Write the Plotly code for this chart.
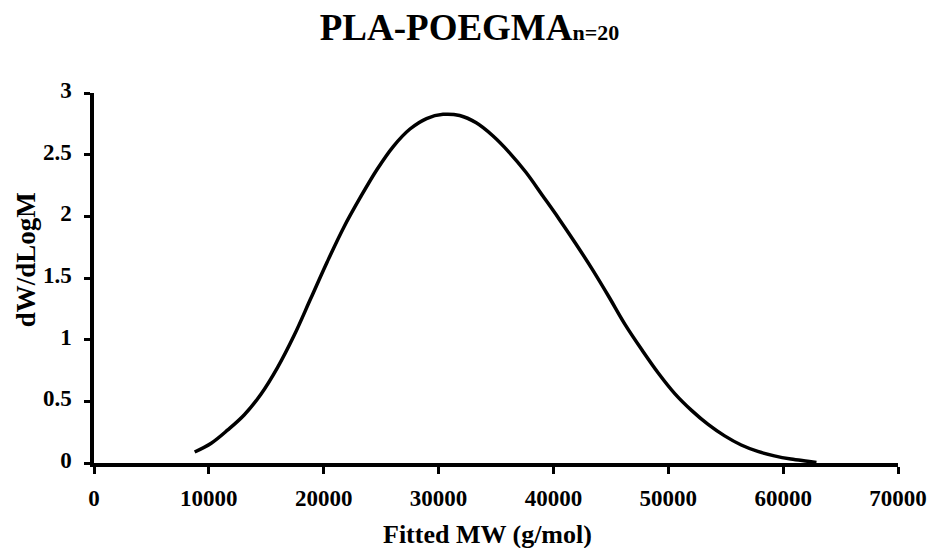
import plotly.graph_objects as go

# Data
mw = [8765, 10207, 11649, 13091, 14533, 15975, 17417, 18859, 20301, 21743,
      23185, 24627, 26069, 27511, 28953, 30395, 31837, 33279, 34721, 36163,
      37605, 39047, 40489, 41931, 43373, 44815, 46257, 47699, 49141, 50583,
      52025, 53467, 54909, 56351, 57793, 59235, 60677, 62119, 62900]
dwdlogm = [0.089, 0.160, 0.268, 0.391, 0.557, 0.773, 1.033, 1.331, 1.630, 1.910,
           2.153, 2.378, 2.568, 2.708, 2.793, 2.827, 2.817, 2.758, 2.653, 2.517,
           2.357, 2.169, 1.979, 1.780, 1.572, 1.350, 1.120, 0.918, 0.728, 0.561,
           0.427, 0.313, 0.220, 0.146, 0.094, 0.058, 0.032, 0.014, 0.004]

x_ticks = [0, 10000, 20000, 30000, 40000, 50000, 60000, 70000]
y_ticks = [0, 0.5, 1, 1.5, 2, 2.5, 3]
y_tick_labels = ["0", "0.5", "1", "1.5", "2", "2.5", "3"]

FONT = "Liberation Serif, Times New Roman, serif"

fig = go.Figure()
fig.add_trace(go.Scatter(
    x=mw, y=dwdlogm, mode="lines",
    line=dict(color="black", width=3.5, shape="spline", smoothing=1.0),
    showlegend=False, hoverinfo="skip",
))

fig.update_layout(
    width=939, height=548,
    margin=dict(l=93.5, r=35, t=92.7, b=85.3),
    paper_bgcolor="white", plot_bgcolor="white",
    font=dict(family=FONT, color="black"),
    title=dict(
        text="<b>PLA-POEGMA<span style='font-size:22px'>n=20</span></b>",
        font=dict(family=FONT, size=37, color="black"),
        x=0.5, xref="container", xanchor="center",
        y=1 - 27 / 548, yref="container", yanchor="middle",
    ),
    xaxis=dict(
        range=[0, 70000], tickvals=x_ticks, ticktext=[f"<b>{v}</b>" for v in x_ticks],
        showgrid=False, zeroline=False,
        showline=True, linecolor="black", linewidth=3.5,
        ticks="outside", ticklen=7, tickwidth=3, tickcolor="black",
        tickfont=dict(family=FONT, size=23, color="black"),
        ticklabelstandoff=5,
    ),
    yaxis=dict(
        range=[0, 3], tickvals=y_ticks, ticktext=[f"<b>{t}</b>" for t in y_tick_labels],
        showgrid=False, zeroline=False,
        showline=True, linecolor="black", linewidth=3.5,
        ticks="outside", ticklen=6, tickwidth=3, tickcolor="black",
        tickfont=dict(family=FONT, size=23, color="black"),
        ticklabelstandoff=8, ticklabelshift=-3,
    ),
    annotations=[
        dict(text="<b>Fitted MW (g/mol)</b>", xref="paper", yref="paper",
             x=(490 - 93.5) / 810.5, y=-(534 - 462.7) / 370,
             xanchor="center", yanchor="middle", showarrow=False,
             font=dict(family=FONT, size=26, color="black")),
        dict(text="<b>dW/dLogM</b>", xref="paper", yref="paper",
             x=-(93.5 - 25) / 810.5, y=(462.7 - 260) / 370,
             xanchor="center", yanchor="middle", textangle=-90, showarrow=False,
             font=dict(family=FONT, size=27, color="black")),
    ],
)

fig.write_html("out.html")
